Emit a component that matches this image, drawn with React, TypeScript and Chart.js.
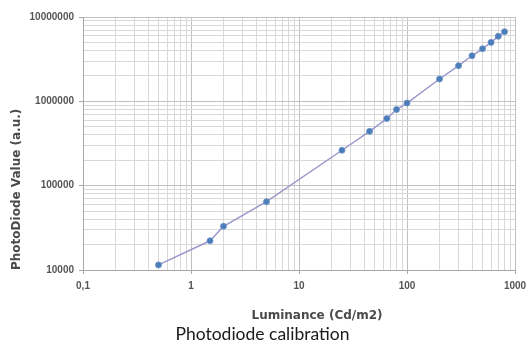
import React, { useEffect, useRef } from "react";
import { Chart, registerables } from "chart.js";

Chart.register(...registerables);

const luminance = [0.5, 1.5, 2, 5, 25, 45, 65, 80, 100, 200, 300, 400, 500, 600, 700, 800];
const photodiode = [11500, 22200, 33000, 64500, 263000, 441000, 624000, 800000, 955000, 1840000, 2650000, 3470000, 4200000, 5000000, 5900000, 6700000];
const xMajorTicks = [0.1, 1, 10, 100, 1000];
const yMajorTicks = [10000, 100000, 1000000, 10000000];
const xTitle = "Luminance (Cd/m2)";
const yTitle = "PhotoDiode Value (a.u.)";
const caption = "Photodiode calibration";

function isMajor(v: number, majors: number[]) {
  return majors.some((m) => Math.abs(m - v) / m < 1e-9);
}

function logTicks(majors: number[]) {
  const out: { value: number; major: boolean }[] = [];
  for (let i = 0; i < majors.length; i++) {
    const base = majors[i];
    out.push({ value: base, major: true });
    if (i < majors.length - 1) {
      for (let m = 2; m <= 9; m++) {
        out.push({ value: parseFloat((m * base).toPrecision(6)), major: false });
      }
    }
  }
  return out;
}

function fmt(v: number) {
  return String(v).replace(".", ",");
}

const textPlugin = {
  id: "textPlugin",
  afterDraw(chart: any) {
    const { ctx, chartArea } = chart;
    ctx.save();
    ctx.textAlign = "center";
    ctx.textBaseline = "middle";
    ctx.font = 'bold 12px "DejaVu Sans"';
    ctx.fillStyle = "#4a4a4a";
    ctx.fillText(xTitle, (chartArea.left + chartArea.right) / 2 + 18, chartArea.bottom + 46);
    ctx.font = '17.5px "Lato"';
    ctx.fillStyle = "#1a1a1a";
    ctx.fillText(caption, chart.width / 2 - 1, chartArea.bottom + 64);
    ctx.restore();
  },
};

export default function App() {
  const ref = useRef<HTMLCanvasElement>(null);
  useEffect(() => {
    if (!ref.current) return;
    const data = luminance.map((x, i) => ({ x, y: photodiode[i] }));
    const tickFont = { family: "Liberation Sans", size: 10, weight: "bold" };
    const chart = new Chart(ref.current, {
      type: "scatter",
      data: {
        datasets: [
          {
            data,
            showLine: true,
            borderColor: "#9a98cc",
            borderWidth: 1.5,
            backgroundColor: "#4a7ebb",
            pointBackgroundColor: "#4a7ebb",
            pointBorderColor: "#6a8fc4",
            pointBorderWidth: 0.8,
            pointStyle: "circle",
            pointRadius: 3,
            tension: 0,
          },
        ],
      },
      options: {
        responsive: false,
        animation: false,
        layout: { padding: { top: 17, right: 12, left: 0, bottom: 0 } },
        plugins: { legend: { display: false }, tooltip: { enabled: false }, title: { display: false } },
        scales: {
          x: {
            type: "logarithmic",
            min: 0.1,
            max: 1000,
            afterBuildTicks: (scale: any) => {
              scale.ticks = logTicks(xMajorTicks);
            },
            afterFit: (scale: any) => {
              scale.height = 77;
              scale.paddingRight = 0;
              scale.paddingLeft = 0;
            },
            border: { color: "#a8a8a8", width: 1 },
            grid: {
              color: (c: any) => (c.tick && isMajor(c.tick.value, xMajorTicks) ? "#c0c0c0" : "#d8d8d8"),
              tickColor: (c: any) => (c.tick && isMajor(c.tick.value, xMajorTicks) ? "#a8a8a8" : "rgba(0,0,0,0)"),
              tickLength: 4,
            },
            ticks: {
              autoSkip: false,
              maxRotation: 0,
              padding: 6,
              color: "#555555",
              font: tickFont,
              callback: (v: any) => (isMajor(Number(v), xMajorTicks) ? fmt(Number(v)) : ""),
            },
          },
          y: {
            type: "logarithmic",
            min: 10000,
            max: 10000000,
            afterBuildTicks: (scale: any) => {
              scale.ticks = logTicks(yMajorTicks);
            },
            afterFit: (scale: any) => {
              scale.width = 83;
              scale.paddingTop = 0;
              scale.paddingBottom = 0;
            },
            border: { color: "#a8a8a8", width: 1 },
            grid: {
              color: (c: any) => (c.tick && isMajor(c.tick.value, yMajorTicks) ? "#c0c0c0" : "#d8d8d8"),
              tickColor: (c: any) => (c.tick && isMajor(c.tick.value, yMajorTicks) ? "#a8a8a8" : "rgba(0,0,0,0)"),
              tickLength: 4,
            },
            ticks: {
              autoSkip: false,
              padding: 5,
              color: "#555555",
              font: tickFont,
              callback: (v: any) => (isMajor(Number(v), yMajorTicks) ? fmt(Number(v)) : ""),
            },
            title: {
              display: true,
              text: yTitle,
              align: "start",
              color: "#4a4a4a",
              font: { family: "DejaVu Sans", size: 12, weight: "bold" },
              padding: { top: 10, bottom: 0 },
            },
          },
        },
      },
      plugins: [textPlugin],
    } as any);
    return () => chart.destroy();
  }, []);
  return (
    <div style={{ position: "absolute", left: 0, top: 0, width: 527, height: 347, background: "#fff" }}>
      <canvas ref={ref} width={527} height={347} style={{ display: "block" }} />
    </div>
  );
}
